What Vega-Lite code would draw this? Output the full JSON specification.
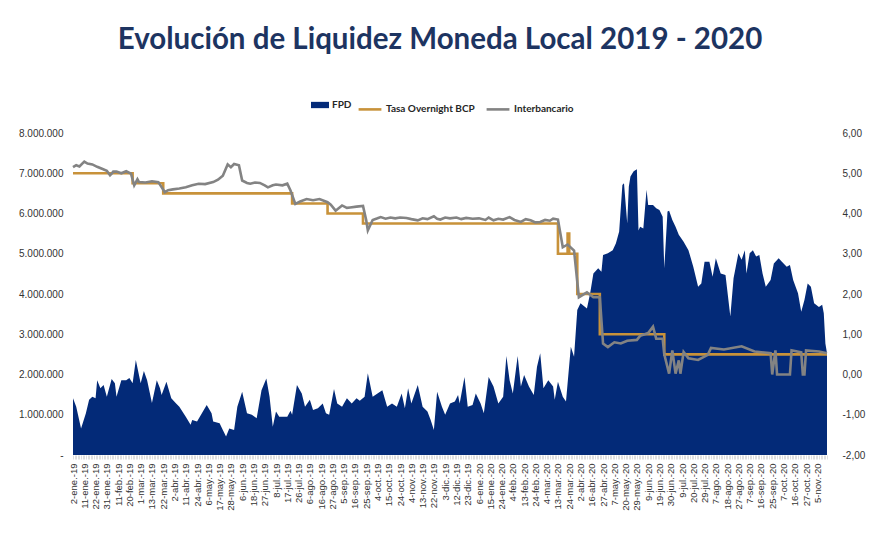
{
"$schema": "https://vega.github.io/schema/vega-lite/v6.json",
"autosize": "none",
"width": 754,
"height": 322,
"padding": {"left": 73, "top": 133, "right": 56, "bottom": 79},
"background": "white",
"config": {
  "locale": {"number": {"decimal": ",", "thousands": ".", "grouping": [3], "currency": ["", ""], "minus": "-"}},
  "view": {"stroke": null},
  "axis": {"grid": false, "domain": false, "ticks": false, "labelFont": "Liberation Sans", "labelFontSize": 10, "labelColor": "#333333"},
  "legend": {"padding": 0}
},
"title": {"text": "Evolución de Liquidez Moneda Local 2019 - 2020", "font": "Lato", "fontSize": 29.5, "fontWeight": "bold", "color": "#1d3461", "anchor": "middle", "frame": "group", "offset": 41, "dx": -10},
"datasets": {
"fpd": [{"i":0,"v":1410000},{"i":2,"v":1200000},{"i":5,"v":660000},{"i":8,"v":1040000},{"i":10,"v":1370000},{"i":12,"v":1450000},{"i":14,"v":1410000},{"i":15,"v":1860000},{"i":17,"v":1660000},{"i":19,"v":1740000},{"i":21,"v":1450000},{"i":24,"v":1890000},{"i":26,"v":1780000},{"i":27,"v":1450000},{"i":30,"v":1860000},{"i":33,"v":1860000},{"i":35,"v":1910000},{"i":37,"v":1780000},{"i":39,"v":2360000},{"i":42,"v":1780000},{"i":44,"v":2090000},{"i":46,"v":1860000},{"i":49,"v":1290000},{"i":52,"v":1860000},{"i":54,"v":1660000},{"i":55,"v":1490000},{"i":58,"v":1820000},{"i":61,"v":1410000},{"i":64,"v":1280000},{"i":66,"v":1200000},{"i":70,"v":950000},{"i":73,"v":750000},{"i":74,"v":870000},{"i":77,"v":830000},{"i":80,"v":1040000},{"i":83,"v":1240000},{"i":86,"v":1040000},{"i":87,"v":830000},{"i":91,"v":790000},{"i":93,"v":620000},{"i":95,"v":460000},{"i":97,"v":660000},{"i":100,"v":620000},{"i":102,"v":1200000},{"i":105,"v":1570000},{"i":108,"v":1040000},{"i":111,"v":1000000},{"i":114,"v":910000},{"i":117,"v":1610000},{"i":120,"v":1900000},{"i":122,"v":1450000},{"i":124,"v":700000},{"i":126,"v":1080000},{"i":128,"v":950000},{"i":133,"v":950000},{"i":135,"v":1100000},{"i":136,"v":1000000},{"i":139,"v":1740000},{"i":142,"v":1530000},{"i":144,"v":1200000},{"i":147,"v":1370000},{"i":149,"v":1120000},{"i":152,"v":1160000},{"i":155,"v":1280000},{"i":157,"v":1040000},{"i":159,"v":1000000},{"i":162,"v":1640000},{"i":164,"v":1280000},{"i":167,"v":1200000},{"i":170,"v":1410000},{"i":173,"v":1280000},{"i":176,"v":1410000},{"i":178,"v":1350000},{"i":181,"v":1450000},{"i":183,"v":2030000},{"i":186,"v":1450000},{"i":189,"v":1530000},{"i":192,"v":1610000},{"i":195,"v":1200000},{"i":198,"v":1280000},{"i":201,"v":1200000},{"i":204,"v":1530000},{"i":206,"v":1160000},{"i":208,"v":1660000},{"i":210,"v":1280000},{"i":214,"v":1740000},{"i":217,"v":1200000},{"i":220,"v":1080000},{"i":222,"v":870000},{"i":224,"v":620000},{"i":226,"v":1570000},{"i":229,"v":1200000},{"i":231,"v":1000000},{"i":234,"v":1280000},{"i":237,"v":1330000},{"i":239,"v":1490000},{"i":240,"v":1280000},{"i":243,"v":1940000},{"i":245,"v":1200000},{"i":248,"v":1240000},{"i":250,"v":1530000},{"i":253,"v":1280000},{"i":255,"v":1040000},{"i":258,"v":1940000},{"i":261,"v":1700000},{"i":264,"v":1280000},{"i":267,"v":1450000},{"i":269,"v":2460000},{"i":271,"v":1860000},{"i":273,"v":1530000},{"i":276,"v":2460000},{"i":278,"v":1700000},{"i":280,"v":1990000},{"i":283,"v":1700000},{"i":286,"v":1490000},{"i":288,"v":2190000},{"i":290,"v":2530000},{"i":292,"v":1660000},{"i":295,"v":1860000},{"i":298,"v":1700000},{"i":299,"v":1370000},{"i":301,"v":1820000},{"i":304,"v":1450000},{"i":306,"v":1330000},{"i":309,"v":2690000},{"i":311,"v":2440000},{"i":313,"v":3600000},{"i":315,"v":3770000},{"i":319,"v":3640000},{"i":321,"v":4020000},{"i":323,"v":4510000},{"i":326,"v":4640000},{"i":328,"v":4550000},{"i":329,"v":4970000},{"i":332,"v":5010000},{"i":335,"v":5090000},{"i":337,"v":5260000},{"i":339,"v":5550000},{"i":341,"v":6710000},{"i":342,"v":6750000},{"i":344,"v":5750000},{"i":345,"v":6670000},{"i":346,"v":6920000},{"i":348,"v":7050000},{"i":350,"v":7100000},{"i":351,"v":5580000},{"i":352,"v":5670000},{"i":354,"v":5630000},{"i":356,"v":6590000},{"i":357,"v":6210000},{"i":360,"v":6210000},{"i":362,"v":6130000},{"i":364,"v":6090000},{"i":366,"v":5920000},{"i":367,"v":4640000},{"i":369,"v":6050000},{"i":370,"v":6070000},{"i":372,"v":5840000},{"i":374,"v":5670000},{"i":376,"v":5470000},{"i":379,"v":5300000},{"i":382,"v":5090000},{"i":385,"v":4680000},{"i":388,"v":4180000},{"i":390,"v":4260000},{"i":392,"v":4800000},{"i":395,"v":4800000},{"i":397,"v":4430000},{"i":399,"v":4890000},{"i":402,"v":4510000},{"i":405,"v":4470000},{"i":408,"v":3440000},{"i":410,"v":4390000},{"i":413,"v":5010000},{"i":415,"v":4850000},{"i":417,"v":5090000},{"i":418,"v":4510000},{"i":420,"v":5010000},{"i":422,"v":5090000},{"i":424,"v":4930000},{"i":426,"v":4970000},{"i":428,"v":4510000},{"i":430,"v":4180000},{"i":433,"v":4350000},{"i":435,"v":4760000},{"i":438,"v":4890000},{"i":440,"v":4800000},{"i":443,"v":4680000},{"i":445,"v":4720000},{"i":447,"v":4350000},{"i":450,"v":4020000},{"i":452,"v":3560000},{"i":454,"v":3850000},{"i":456,"v":4260000},{"i":458,"v":4180000},{"i":460,"v":3770000},{"i":463,"v":3680000},{"i":465,"v":3730000},{"i":466,"v":3520000},{"i":467,"v":2770000},{"i":468,"v":2530000}],
"tasa": [{"i":0,"v":5.0},{"i":37,"v":4.75},{"i":56,"v":4.5},{"i":136,"v":4.25},{"i":158,"v":4.0},{"i":180,"v":3.75},{"i":301,"v":3.0},{"i":307,"v":3.5},{"i":308,"v":3.0},{"i":313,"v":2.0},{"i":327,"v":1.0},{"i":367,"v":0.5},{"i":468,"v":0.5}],
"inter": [{"i":0,"v":5.15},{"i":2,"v":5.2},{"i":4,"v":5.17},{"i":7,"v":5.29},{"i":9,"v":5.24},{"i":12,"v":5.22},{"i":15,"v":5.16},{"i":18,"v":5.11},{"i":21,"v":5.06},{"i":23,"v":4.95},{"i":24,"v":4.99},{"i":25,"v":5.04},{"i":27,"v":5.04},{"i":30,"v":5.0},{"i":33,"v":5.05},{"i":36,"v":4.99},{"i":38,"v":4.7},{"i":40,"v":4.85},{"i":41,"v":4.78},{"i":45,"v":4.77},{"i":49,"v":4.8},{"i":53,"v":4.78},{"i":57,"v":4.53},{"i":59,"v":4.58},{"i":62,"v":4.6},{"i":66,"v":4.62},{"i":70,"v":4.65},{"i":74,"v":4.7},{"i":78,"v":4.74},{"i":82,"v":4.73},{"i":87,"v":4.78},{"i":90,"v":4.84},{"i":93,"v":4.94},{"i":96,"v":5.22},{"i":98,"v":5.15},{"i":100,"v":5.23},{"i":103,"v":5.2},{"i":105,"v":4.82},{"i":108,"v":4.76},{"i":110,"v":4.74},{"i":113,"v":4.77},{"i":116,"v":4.76},{"i":119,"v":4.7},{"i":121,"v":4.65},{"i":124,"v":4.7},{"i":126,"v":4.72},{"i":130,"v":4.7},{"i":133,"v":4.74},{"i":135,"v":4.57},{"i":138,"v":4.24},{"i":141,"v":4.3},{"i":145,"v":4.36},{"i":149,"v":4.33},{"i":153,"v":4.36},{"i":158,"v":4.28},{"i":160,"v":4.22},{"i":163,"v":4.07},{"i":167,"v":4.2},{"i":170,"v":4.14},{"i":172,"v":4.15},{"i":176,"v":4.17},{"i":180,"v":4.19},{"i":182,"v":3.83},{"i":183,"v":3.58},{"i":186,"v":3.84},{"i":189,"v":3.88},{"i":191,"v":3.91},{"i":194,"v":3.87},{"i":197,"v":3.9},{"i":200,"v":3.88},{"i":203,"v":3.9},{"i":207,"v":3.89},{"i":210,"v":3.86},{"i":214,"v":3.83},{"i":217,"v":3.88},{"i":220,"v":3.86},{"i":224,"v":3.93},{"i":226,"v":3.87},{"i":228,"v":3.85},{"i":231,"v":3.9},{"i":234,"v":3.88},{"i":238,"v":3.9},{"i":241,"v":3.86},{"i":244,"v":3.89},{"i":248,"v":3.87},{"i":252,"v":3.88},{"i":256,"v":3.84},{"i":258,"v":3.9},{"i":261,"v":3.83},{"i":264,"v":3.87},{"i":267,"v":3.85},{"i":271,"v":3.91},{"i":274,"v":3.84},{"i":278,"v":3.79},{"i":281,"v":3.86},{"i":284,"v":3.83},{"i":287,"v":3.78},{"i":290,"v":3.79},{"i":293,"v":3.84},{"i":296,"v":3.82},{"i":298,"v":3.87},{"i":301,"v":3.85},{"i":304,"v":3.16},{"i":307,"v":3.23},{"i":311,"v":3.08},{"i":314,"v":1.92},{"i":319,"v":2.04},{"i":323,"v":1.92},{"i":327,"v":1.92},{"i":329,"v":0.77},{"i":332,"v":0.68},{"i":336,"v":0.8},{"i":340,"v":0.77},{"i":344,"v":0.84},{"i":350,"v":0.86},{"i":352,"v":0.96},{"i":357,"v":1.03},{"i":360,"v":1.19},{"i":362,"v":0.89},{"i":366,"v":0.89},{"i":367,"v":0.5},{"i":370,"v":0.02},{"i":372,"v":0.6},{"i":374,"v":0.02},{"i":376,"v":0.35},{"i":377,"v":0.02},{"i":379,"v":0.56},{"i":382,"v":0.4},{"i":388,"v":0.36},{"i":394,"v":0.49},{"i":396,"v":0.66},{"i":404,"v":0.62},{"i":415,"v":0.7},{"i":423,"v":0.57},{"i":433,"v":0.53},{"i":434,"v":0.0},{"i":436,"v":0.6},{"i":437,"v":0.0},{"i":445,"v":0.0},{"i":446,"v":0.6},{"i":452,"v":0.55},{"i":453,"v":0.0},{"i":454,"v":0.0},{"i":455,"v":0.6},{"i":463,"v":0.57},{"i":468,"v":0.53}]
},
"encoding": {
  "x": {"field": "i", "type": "quantitative", "scale": {"domain": [0, 468], "nice": false, "zero": false},
    "axis": {"title": null, "tickCount": 468, "ticks": true, "tickSize": 4, "tickColor": "#c8c8c8", "tickWidth": 0.6, "labelAngle": -90, "labelFontSize": 9.5, "labelPadding": 4, "labelOverlap": false, "labelBound": false,
      "labelExpr": "datum.value % 7 === 0 ? ['2-ene.-19','11-ene.-19','22-ene.-19','31-ene.-19','11-feb.-19','20-feb.-19','1-mar.-19','13-mar.-19','22-mar.-19','2-abr.-19','11-abr.-19','24-abr.-19','6-may.-19','17-may.-19','28-may.-19','6-jun.-19','18-jun.-19','27-jun.-19','8-jul.-19','17-jul.-19','26-jul.-19','6-ago.-19','16-ago.-19','27-ago.-19','5-sep.-19','16-sep.-19','25-sep.-19','4-oct.-19','15-oct.-19','24-oct.-19','4-nov.-19','13-nov.-19','22-nov.-19','3-dic.-19','12-dic.-19','23-dic.-19','6-ene.-20','15-ene.-20','24-ene.-20','4-feb.-20','13-feb.-20','24-feb.-20','4-mar.-20','13-mar.-20','24-mar.-20','2-abr.-20','16-abr.-20','27-abr.-20','7-may.-20','20-may.-20','29-may.-20','9-jun.-20','19-jun.-20','30-jun.-20','9-jul.-20','20-jul.-20','29-jul.-20','7-ago.-20','18-ago.-20','27-ago.-20','7-sep.-20','16-sep.-20','25-sep.-20','7-oct.-20','16-oct.-20','27-oct.-20','5-nov.-20'][datum.value / 7] : ''"}}
},
"layer": [
  {
    "data": {"name": "fpd"},
    "mark": {"type": "area", "interpolate": "linear"},
    "encoding": {
      "y": {"field": "v", "type": "quantitative", "scale": {"domain": [0, 8000000], "nice": false},
        "axis": {"title": null, "orient": "left", "values": [0,1000000,2000000,3000000,4000000,5000000,6000000,7000000,8000000], "format": ",.0f", "labelPadding": 10, "labelExpr": "datum.value === 0 ? '-' : datum.label"}},
      "fill": {"datum": "FPD", "scale": {"domain": ["FPD"], "range": ["#032a78"]},
        "legend": {"title": null, "orient": "none", "legendX": 238, "legendY": -37, "direction": "horizontal", "symbolType": "M-1,-0.35H1V0.35H-1Z", "symbolSize": 324, "symbolStrokeWidth": 0, "labelFont": "Lato", "labelFontWeight": "bold", "labelFontSize": 10, "labelColor": "#262626", "labelOffset": 3}}
    }
  },
  {
    "layer": [
      {
        "data": {"name": "tasa"},
        "mark": {"type": "line", "interpolate": "step-after", "strokeWidth": 2.6},
        "encoding": {
          "y": {"field": "v", "type": "quantitative", "scale": {"domain": [-2, 6], "nice": false},
            "axis": {"title": null, "orient": "right", "values": [-2,-1,0,1,2,3,4,5,6], "format": ".2f", "labelPadding": 15}},
          "stroke": {"datum": "Tasa Overnight BCP", "scale": {"domain": ["Tasa Overnight BCP", "Interbancario"], "range": ["#c8923a", "#838383"]},
            "legend": {"title": null, "orient": "none", "legendX": 284, "legendY": -37, "direction": "horizontal", "symbolType": "stroke", "symbolSize": 520, "symbolStrokeWidth": 2.6, "labelFont": "Lato", "labelFontWeight": "bold", "labelFontSize": 10, "labelColor": "#262626", "labelOffset": 3, "columnPadding": 6}}
        }
      },
      {
        "data": {"name": "inter"},
        "mark": {"type": "line", "interpolate": "linear", "strokeWidth": 2.6},
        "encoding": {
          "y": {"field": "v", "type": "quantitative"},
          "stroke": {"datum": "Interbancario"}
        }
      }
    ]
  }
],
"resolve": {"scale": {"y": "independent"}}
}
